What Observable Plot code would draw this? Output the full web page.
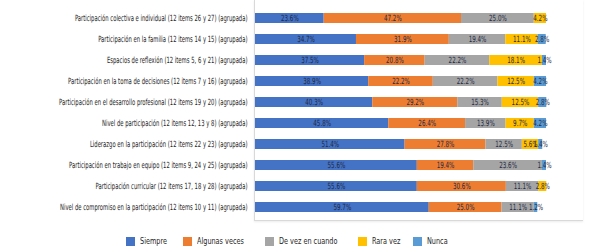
<!DOCTYPE html>
<html>
<head>
<meta charset="utf-8">
<script src="https://cdn.jsdelivr.net/npm/d3@7"></script>
<script src="https://cdn.jsdelivr.net/npm/@observablehq/plot@0.6"></script>
<style>
  html, body { margin: 0; padding: 0; background: #fff; }
  #wrap { position: relative; width: 589px; height: 251px; overflow: hidden; font-family: "DejaVu Sans Condensed", "Liberation Sans Narrow", sans-serif; }
  #frame { position: absolute; left: 254px; top: 0; width: 328px; height: 220px; border-left: 1px solid #d9d9d9; border-bottom: 1px solid #d9d9d9; box-shadow: 0 1px 2px rgba(0,0,0,0.08); }
  #chart { position: absolute; left: 0; top: 0; }
  #legend { position: absolute; top: 236px; left: 0; width: 589px; height: 12px; font-size: 8.5px; color: #262626; }
  #legend .item { position: absolute; top: 0; display: flex; align-items: center; white-space: nowrap; }
  #legend .sw { width: 9px; height: 9px; margin-right: 5px; flex: none; }
  #legend .lbl { display: inline-block; transform: scaleX(0.85); transform-origin: left center; }
</style>
</head>
<body>
<div id="wrap">
  <div id="frame"></div>
  <div id="chart"></div>
  <div id="legend"></div>
</div>
<script>
const categories = [
  "Participación colectiva e individual (12 items 26 y 27) (agrupada)",
  "Participación en la familia (12 items 14 y 15) (agrupada)",
  "Espacios de reflexión (12 items 5, 6 y 21) (agrupada)",
  "Participación en la toma de decisiones (12 items 7 y 16) (agrupada)",
  "Participación en el desarrollo profesional (12 items 19 y 20) (agrupada)",
  "Nivel de participación (12 items 12, 13 y 8) (agrupada)",
  "Liderazgo en la participación (12 items 22 y 23) (agrupada)",
  "Participación en trabajo en equipo (12 items 9, 24 y 25) (agrupada)",
  "Participación curricular (12 items 17, 18 y 28) (agrupada)",
  "Nivel de compromiso en la participación (12 items 10 y 11) (agrupada)"
];
const seriesNames = ["Siempre", "Algunas veces", "De vez en cuando", "Rara vez", "Nunca"];
const seriesColors = ["#4472C4", "#ED7D31", "#A5A5A5", "#FFC000", "#5B9BD5"];

const siempre      = [23.6, 34.7, 37.5, 38.9, 40.3, 45.8, 51.4, 55.6, 55.6, 59.7];
const algunasVeces = [47.2, 31.9, 20.8, 22.2, 29.2, 26.4, 27.8, 19.4, 30.6, 25.0];
const deVezEnCuando= [25.0, 19.4, 22.2, 22.2, 15.3, 13.9, 12.5, 23.6, 11.1, 11.1];
const raraVez      = [4.2, 11.1, 18.1, 12.5, 12.5, 9.7, 5.6, 0, 2.8, 0];
const nunca        = [0, 2.8, 1.4, 4.2, 2.8, 4.2, 1.4, 1.4, 0, 1.2];

const seriesValues = [siempre, algunasVeces, deVezEnCuando, raraVez, nunca];
const rows = [];
seriesNames.forEach((s, si) => {
  categories.forEach((c, ci) => {
    const v = seriesValues[si][ci];
    if (v > 0) rows.push({category: c, series: s, value: v});
  });
});

const font = '"DejaVu Sans Condensed", "Liberation Sans Narrow", sans-serif';

const chart = Plot.plot({
  width: 589,
  height: 222,
  marginLeft: 255,
  marginRight: 43,
  marginTop: 5,
  marginBottom: 3,
  style: {fontFamily: font, fontSize: "8.5px", color: "#262626", background: "transparent"},
  x: {domain: [0, 100], axis: null},
  y: {domain: categories, paddingInner: 0.53, paddingOuter: 0.265, label: null, tickSize: 0, tickPadding: 8},
  color: {domain: seriesNames, range: seriesColors},
  marks: [
    Plot.barX(rows, Plot.stackX({x: "value", y: "category", fill: "series", order: seriesNames})),
    Plot.text(rows, Plot.stackX({x: "value", y: "category", z: "series", order: seriesNames,
      text: d => d.value.toFixed(1) + "%", fill: "#1f2a44", fontSize: 8.5}))
  ]
});
// condense all text horizontally (the reference uses a narrow typeface)
chart.querySelectorAll("text").forEach(t => {
  const tr = t.getAttribute("transform");
  if (!tr) return;
  const g = t.closest("g[aria-label]");
  const isAxis = g && /y-axis/.test(g.getAttribute("aria-label"));
  t.setAttribute("transform", tr + (isAxis ? " scale(0.69,1)" : " scale(0.73,1)"));
});
document.getElementById("chart").appendChild(chart);

const legend = document.getElementById("legend");
const legendLeft = [126, 183, 265, 358, 413];
seriesNames.forEach((s, i) => {
  const item = document.createElement("div");
  item.className = "item";
  item.style.left = legendLeft[i] + "px";
  const sw = document.createElement("span");
  sw.className = "sw";
  sw.style.background = seriesColors[i];
  const t = document.createElement("span");
  t.className = "lbl";
  t.textContent = s;
  item.appendChild(sw);
  item.appendChild(t);
  legend.appendChild(item);
});
</script>
</body>
</html>
